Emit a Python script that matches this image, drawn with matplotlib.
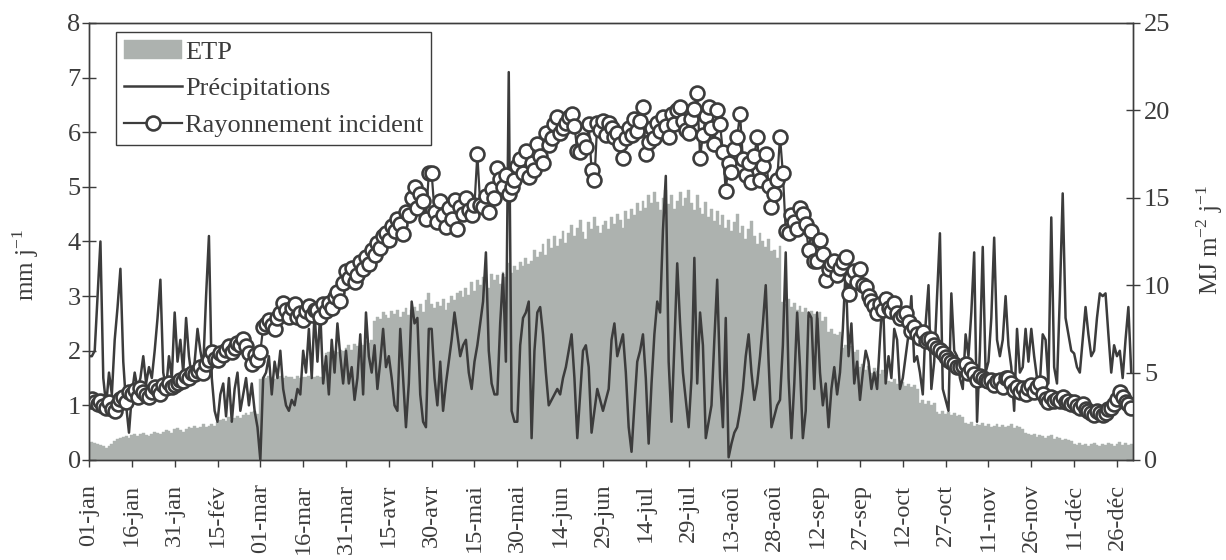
import matplotlib
matplotlib.use("Agg")
import matplotlib.pyplot as plt
import numpy as np

# one tick every 15 days, leap year (366 days)
tick_days = list(range(0, 361, 15))
tick_labels = ["01-jan", "16-jan", "31-jan", "15-fév", "01-mar", "16-mar", "31-mar",
               "15-avr", "30-avr", "15-mai", "30-mai", "14-jun", "29-jun", "14-jul",
               "29-jul", "13-aoû", "28-aoû", "12-sep", "27-sep", "12-oct", "27-oct",
               "11-nov", "26-nov", "11-déc", "26-déc"]

# ETP (mm/j), daily
etp = [
    0.32, 0.33, 0.31, 0.30, 0.28, 0.25, 0.22, 0.26, 0.30, 0.35, 0.38, 0.40, 0.42, 0.44, 0.40,
    0.45, 0.48, 0.43, 0.47, 0.50, 0.46, 0.44, 0.48, 0.52, 0.50, 0.47, 0.51, 0.55, 0.53, 0.50,
    0.56, 0.58, 0.55, 0.52, 0.57, 0.60, 0.58, 0.62, 0.59, 0.61, 0.65, 0.60, 0.63, 0.66, 0.62,
    0.70, 0.73, 0.75, 0.72, 0.78, 0.74, 0.76, 0.80, 0.77, 0.82, 0.86, 0.83, 0.88, 0.90, 0.85,
    1.48, 1.52, 1.50, 1.53, 1.51, 1.49, 1.52, 1.54, 1.50, 1.53, 1.51, 1.52, 1.49, 1.53, 1.50,
    1.52, 1.51, 1.53, 1.50, 1.52, 1.54, 1.51, 1.52, 1.95, 1.98, 1.93, 2.00, 1.97, 2.02, 1.99,
    2.05, 2.10, 2.02, 2.12, 2.08, 2.15, 2.10, 2.18, 2.14, 2.20, 2.55, 2.62, 2.58, 2.70, 2.65,
    2.60, 2.72, 2.68, 2.75, 2.62, 2.70, 2.78, 2.66, 2.74, 2.80, 2.72, 2.85, 2.70, 2.92, 3.05,
    2.85, 2.78, 2.90, 2.82, 2.95, 2.75, 2.88, 3.00, 2.92, 3.05, 3.10, 2.98, 3.15, 3.02, 3.25,
    3.10, 3.30, 3.20, 3.35, 3.25, 3.15, 3.40, 3.30, 3.38, 3.22, 3.45, 3.35, 3.60, 3.42, 3.55,
    3.48, 3.62, 3.55, 3.70, 3.58, 3.65, 3.85, 3.72, 3.80, 3.95, 3.75, 4.05, 3.88, 4.10, 3.92,
    4.05, 4.20, 3.98, 4.15, 4.30, 4.10, 4.25, 4.40, 4.18, 4.05, 4.35, 4.22, 4.45, 4.28, 4.15,
    4.30, 4.38, 4.22, 4.45, 4.32, 4.50, 4.40, 4.25, 4.55, 4.42, 4.60, 4.48, 4.70, 4.55, 4.75,
    4.62, 4.85, 4.70, 4.90, 4.72, 4.58, 4.80, 4.95, 4.68, 4.85, 4.60, 4.75, 4.90, 4.65, 4.80,
    4.95, 4.70, 4.58, 4.85, 4.62, 4.50, 4.72, 4.45, 4.60, 4.38, 4.55, 4.30, 4.48, 4.25, 4.40,
    4.20, 4.35, 4.50, 4.15, 4.28, 4.05, 4.22, 4.38, 4.10, 3.95, 4.15, 4.00, 3.90, 4.05, 3.82,
    3.85, 3.70, 3.92, 2.90, 2.85, 2.95, 2.80, 2.88, 2.75, 2.82, 2.70, 2.78, 2.65, 2.72, 2.68,
    2.60, 2.70, 2.55, 2.62, 2.35, 2.40, 2.30, 2.28, 2.35, 2.05, 2.10, 2.00, 2.08, 1.98, 2.02,
    1.70, 1.75, 1.65, 1.72, 1.60, 1.68, 1.62, 1.58, 1.65, 1.55, 1.45, 1.42, 1.48, 1.40, 1.38,
    1.42, 1.35, 1.40, 1.33, 1.38, 1.30, 1.05, 1.10, 1.02, 1.08, 1.00, 1.05, 0.88, 0.85, 0.90,
    0.84, 0.87, 0.82, 0.86, 0.80, 0.83, 0.78, 0.68, 0.65, 0.70, 0.62, 0.66, 0.64, 0.68, 0.62,
    0.65, 0.60, 0.63, 0.66, 0.61, 0.64, 0.60, 0.62, 0.65, 0.58, 0.63, 0.60, 0.56, 0.50, 0.48,
    0.45, 0.48, 0.42, 0.46, 0.44, 0.40, 0.43, 0.45, 0.38, 0.42, 0.40, 0.36, 0.39, 0.37, 0.35,
    0.30, 0.28, 0.32, 0.27, 0.30, 0.26, 0.29, 0.31, 0.28, 0.25, 0.30, 0.27, 0.32, 0.29, 0.26,
    0.30, 0.33, 0.28, 0.31, 0.27, 0.30,
]

# Précipitations (mm/j)
precipitations = [
    1.9, 1.9, 2.0, 3.0, 4.0, 1.5, 1.0, 1.6, 1.2, 2.2, 2.8, 3.5, 1.8, 1.0, 0.5,
    1.2, 1.6, 1.3, 1.5, 1.9, 1.4, 1.7, 1.5, 2.0, 2.6, 3.3, 1.6, 1.3, 1.9, 1.5,
    2.7, 1.8, 2.2, 1.6, 2.6, 1.9, 1.5, 1.8, 2.4, 2.0, 1.7, 3.0, 4.1, 1.5, 0.9,
    0.7, 1.2, 1.4, 0.8, 1.5, 0.7, 1.3, 1.6, 0.9, 1.2, 1.5, 1.0, 1.4, 0.9, 0.6,
    0.0, 1.5, 1.6, 1.9, 1.2, 1.8, 1.5, 2.0, 1.3, 1.0, 0.9, 1.1, 1.0, 1.3, 1.2,
    2.0, 1.6, 2.4, 1.5, 2.7, 1.8, 2.7, 1.4, 1.9, 1.2, 2.2, 1.6, 2.5, 1.9, 1.4,
    2.0, 1.4, 1.7, 1.1, 1.5, 2.3, 1.2, 2.7, 1.9, 1.6, 2.1, 1.3, 1.8, 2.4, 1.7,
    1.9, 1.5, 1.0, 0.9, 2.4, 1.5, 0.6, 1.4, 2.9, 2.5, 2.6, 1.2, 0.7, 0.6, 2.4,
    2.4, 1.5, 1.0, 1.8, 0.9, 1.4, 1.8, 2.2, 2.7, 2.3, 1.9, 2.1, 2.2, 1.6, 1.3,
    1.8, 2.1, 2.5, 2.9, 3.8, 2.0, 1.4, 1.2, 1.2, 2.5, 3.4, 1.8, 7.1, 0.9, 0.7,
    0.7, 2.1, 2.6, 2.7, 2.9, 0.4, 2.0, 2.7, 2.8, 2.3, 1.6, 1.0, 1.1, 1.2, 1.3,
    1.2, 1.5, 1.7, 2.0, 2.3, 1.5, 0.4, 1.2, 2.0, 2.1, 1.7, 0.5, 0.9, 1.3, 1.1,
    0.9, 1.1, 1.3, 2.2, 2.5, 1.9, 2.1, 2.3, 1.6, 0.6, 0.15, 1.0, 1.8, 2.0, 2.3,
    1.5, 0.3, 1.4, 2.3, 2.9, 2.7, 4.2, 5.2, 1.8, 0.7, 2.1, 3.6, 2.5, 1.6, 1.1,
    0.6, 1.5, 3.7, 1.4, 2.7, 2.1, 0.4, 0.7, 1.0, 2.2, 3.3, 1.5, 0.6, 2.6, 0.05,
    0.3, 0.5, 0.6, 0.9, 1.3, 1.9, 2.3, 1.6, 1.1, 1.4, 1.9, 2.5, 3.2, 1.8, 0.6,
    0.8, 1.0, 1.1, 2.1, 3.8, 1.5, 0.4, 1.4, 2.7, 1.7, 0.4, 0.9, 2.7, 2.6, 1.3,
    2.7, 1.6, 1.0, 1.4, 0.6, 1.3, 1.7, 1.2, 1.6, 2.4, 3.5, 1.9, 2.5, 1.4, 1.8,
    1.1, 1.6, 2.0, 1.8, 1.3, 1.6, 1.3, 2.2, 3.05, 1.4, 1.9, 1.5, 2.4, 2.2, 1.3,
    1.5, 1.9, 2.3, 3.0, 1.8, 1.9, 1.6, 1.2, 2.5, 3.2, 1.3, 1.8, 3.0, 4.15, 1.3,
    1.1, 0.9, 3.05, 2.0, 1.9, 1.5, 1.3, 2.3, 1.9, 2.7, 3.8, 0.7, 2.0, 3.9, 1.6,
    1.8, 2.6, 4.07, 2.2, 1.9, 2.2, 3.0, 2.1, 1.7, 0.9, 2.4, 1.6, 1.7, 2.4, 1.8,
    2.4, 1.9, 1.5, 1.4, 2.3, 2.2, 1.4, 4.44, 1.7, 1.4, 3.0, 4.88, 2.6, 2.3, 2.0,
    1.95, 1.7, 1.6, 2.2, 2.8, 2.3, 1.9, 2.0, 2.6, 3.05, 3.0, 3.05, 2.3, 1.6, 2.1,
    1.9, 2.0, 1.5, 2.2, 2.8, 1.6,
]

# Rayonnement incident (MJ m-2 j-1), right axis
rayonnement = [
    3.4, 3.5, 3.3, 3.2, 3.4, 3.1, 3.0, 3.3, 2.9, 2.8, 3.2, 3.5, 3.6, 3.3, 3.9,
    3.8, 4.0, 3.6, 4.1, 3.9, 3.7, 3.6, 3.9, 4.2, 4.0, 3.8, 4.3, 4.1, 4.4, 4.2,
    4.3, 4.4, 4.6, 4.5, 4.8, 4.7, 5.0, 4.9, 5.1, 5.3, 5.0, 5.5, 5.7, 6.2, 5.8,
    5.7, 6.1, 6.0, 6.3, 6.5, 6.2, 6.4, 6.7, 6.6, 6.9, 6.5, 6.1, 5.5, 6.0, 5.7,
    6.2, 7.6, 7.8, 8.0, 7.7, 7.5, 8.1, 8.4, 9.0, 8.6, 8.2, 8.7, 8.9, 8.2, 8.4,
    8.0, 8.5, 8.8, 8.3, 8.6, 8.6, 8.2, 8.9, 8.5, 9.0, 8.7, 9.3, 9.6, 9.1, 10.1,
    10.8, 10.4, 11.0, 10.2, 10.6, 11.3, 10.9, 11.6, 11.2, 12.0, 11.7, 12.4, 12.1, 12.8, 13.0,
    12.6, 13.4, 13.1, 13.8, 13.5, 12.9, 14.2, 14.0, 15.0, 15.6, 14.4, 15.2, 14.8, 13.8, 16.4,
    16.4, 14.2, 13.6, 14.8, 14.0, 13.3, 14.4, 13.8, 14.9, 13.2, 14.5, 14.1, 15.0, 14.3, 14.0,
    14.6, 17.5, 14.6, 14.5, 15.1, 14.2, 15.5, 15.0, 16.7, 16.1, 15.6, 16.3, 15.2, 15.6, 16.0,
    16.8, 17.2, 16.4, 17.7, 16.2, 17.0, 16.6, 18.1, 17.4, 17.0, 18.7, 18.0, 18.4, 19.2, 19.6,
    18.7, 19.0, 19.3, 19.6, 19.8, 19.1, 17.7, 17.6, 18.3, 17.9, 19.2, 16.6, 16.0, 19.3, 18.9,
    19.4, 18.6, 19.3, 19.0, 18.5, 18.7, 18.1, 17.3, 18.4, 19.0, 18.6, 19.5, 18.8, 19.4, 20.2,
    17.5, 18.2, 19.0, 18.4, 19.3, 18.8, 19.6, 19.1, 18.5, 19.8, 19.2, 20.0, 20.2, 19.4, 18.9,
    18.7, 19.5, 20.1, 21.0, 17.3, 18.6, 19.7, 20.2, 19.0, 18.1, 20.0, 19.2, 17.6, 15.4, 17.0,
    16.5, 17.8, 18.5, 19.8, 17.2, 16.3, 17.0, 15.9, 17.4, 18.5, 16.0, 16.8, 17.5, 15.7, 14.5,
    15.2, 16.0, 18.5, 16.4, 13.1, 13.0, 14.0, 13.6, 13.2, 14.4, 14.1, 13.5, 12.0, 13.1, 11.4,
    11.4, 12.6, 11.8, 10.3, 10.9, 11.2, 11.4, 10.6, 11.0, 11.3, 11.6, 9.5, 10.4, 10.8, 10.2,
    10.9, 10.0, 9.9, 9.4, 9.1, 8.8, 8.4, 8.9, 8.6, 9.2, 8.7, 8.5, 9.0, 8.4, 8.1,
    8.3, 8.4, 7.9, 7.4, 7.6, 7.2, 7.0, 7.3, 6.8, 6.9, 6.9, 6.6, 6.4, 6.3, 6.1,
    5.9, 5.7, 5.6, 5.5, 5.3, 5.3, 5.4, 5.5, 5.0, 5.2, 4.9, 4.6, 4.8, 4.7, 4.6,
    4.5, 4.6, 4.3, 4.5, 4.6, 4.2, 4.7, 4.7, 4.4, 4.0, 4.2, 3.9, 4.1, 3.8, 4.1,
    4.3, 3.9, 4.2, 4.4, 3.8, 3.5, 3.3, 3.6, 3.4, 3.5, 3.4, 3.6, 3.3, 3.4, 3.2,
    3.3, 3.1, 3.0, 3.2, 2.9, 2.8, 2.7, 2.6, 2.8, 2.7, 2.6, 2.7, 2.9, 3.0, 3.2,
    3.5, 3.9, 3.6, 3.3, 3.2, 3.0,
]

days = np.arange(len(etp))

plt.rcParams["font.family"] = ["Liberation Serif", "DejaVu Serif"]
ink = "#3c3c3c"
etp_grey = "#adb2af"

fig = plt.figure(figsize=(12.26, 5.6), dpi=100)
ax = fig.add_axes([0.0726, 0.1786, 0.8515, 0.7804])

bars = ax.bar(days, etp, width=1.0, color=etp_grey, edgecolor=etp_grey, linewidth=0.3, label="ETP")
line_p, = ax.plot(days, precipitations, color=ink, lw=1.8, label="Précipitations")

ax.set_xlim(0, 365.6)
ax.set_ylim(0, 8)
ax.set_xticks(tick_days)
ax.set_xticklabels(tick_labels, rotation=90, fontsize=17.5)
ax.set_yticks(range(9))
ax.tick_params(axis="y", direction="inout", length=10, width=1, labelsize=19, pad=1, colors=ink)
ax.tick_params(axis="x", direction="out", length=5, width=1, pad=12, colors=ink)
ax.set_ylabel(r"mm j$^{\mathregular{-1}}$", fontsize=18, color=ink)
ax.yaxis.set_label_coords(-0.046, 0.446)

ax2 = ax.twinx()
line_r, = ax2.plot(days, rayonnement, color=ink, lw=1.6, marker="o", ms=10,
                   mfc="white", mec=ink, mew=1.9, label="Rayonnement incident")
ax2.set_ylim(0, 25)
ax2.set_yticks(range(0, 26, 5))
ax2.tick_params(axis="y", direction="inout", length=10, width=1, labelsize=19, pad=3, colors=ink)
ax2.set_ylabel(r"MJ m$^{\mathregular{-2}}$ j$^{\mathregular{-1}}$", fontsize=18, color=ink)
ax2.yaxis.set_label_coords(1.059, 0.503)

for a in (ax, ax2):
    for s in a.spines.values():
        s.set_color(ink)
        s.set_linewidth(1.0)

leg = ax2.legend([bars, line_p, line_r], ["ETP", "Précipitations", "Rayonnement incident"],
                 loc="upper left", bbox_to_anchor=(0.026, 0.979),
                 borderaxespad=0, fontsize=19, fancybox=False, edgecolor=ink, framealpha=1,
                 handlelength=2.2, handletextpad=0.1, labelspacing=0.5, borderpad=0.3)
leg.get_frame().set_linewidth(1.0)
for t in leg.get_texts():
    t.set_color(ink)

fig.savefig("out.png", dpi=100)
